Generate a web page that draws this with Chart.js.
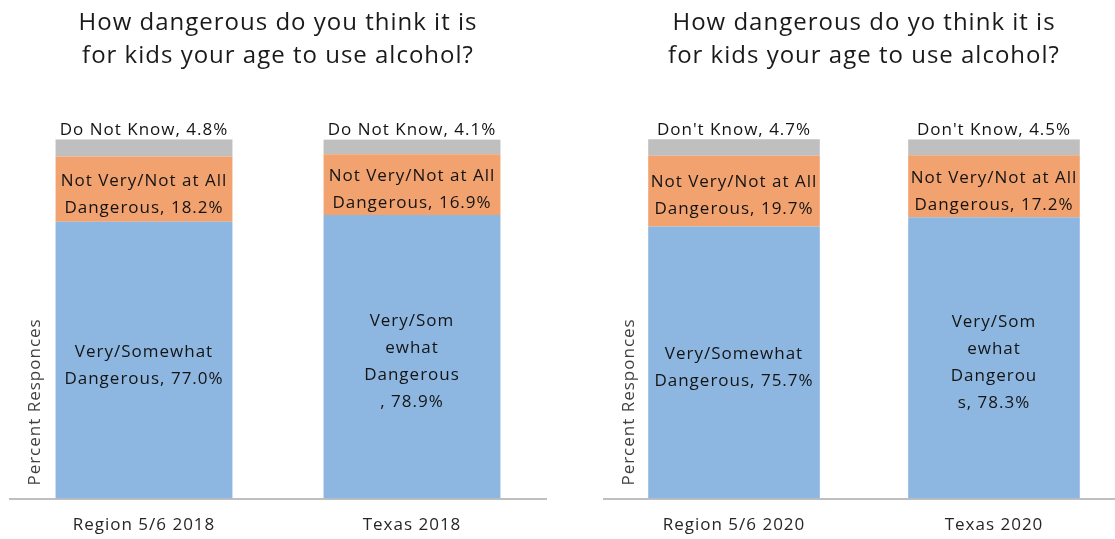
<!DOCTYPE html>
<html lang="en">
<head>
    <meta charset="UTF-8">
    <title>Alcohol danger perception</title>
    <script src="https://cdn.jsdelivr.net/npm/chart.js"></script>
    <style>
        * { box-sizing: border-box; }
        html, body { margin: 0; padding: 0; background: #fff; overflow: hidden; }
        .wrap { position: relative; width: 1115px; height: 539px; overflow: hidden; }
        .panel { position: absolute; top: 0; height: 555px; }
        #left { left: 0; width: 557px; }
        #right { left: 557px; width: 577px; }
    </style>
</head>
<body>
<div class="wrap">
    <div class="panel" id="left"><canvas id="chart2018"></canvas></div>
    <div class="panel" id="right"><canvas id="chart2020"></canvas></div>
</div>

<script>
    // ---- data ----
    const categories2018 = ['Region 5/6 2018', 'Texas 2018'];
    const categories2020 = ['Region 5/6 2020', 'Texas 2020'];

    const seriesNames2018 = ['Very/Somewhat Dangerous', 'Not Very/Not at All Dangerous', 'Do Not Know'];
    const seriesNames2020 = ['Very/Somewhat Dangerous', 'Not Very/Not at All Dangerous', "Don't Know"];

    const verySomewhat2018 = [77.0, 78.9];
    const notVery2018 = [18.2, 16.9];
    const doNotKnow2018 = [4.8, 4.1];

    const verySomewhat2020 = [75.7, 78.3];
    const notVery2020 = [19.7, 17.2];
    const dontKnow2020 = [4.7, 4.5];

    // how each data label was wrapped in the original ('|' = line break), value is appended
    const labelWrap2018 = [
        ['Very/Somewhat|Dangerous, ', 'Very/Som|ewhat|Dangerous|, '],
        ['Not Very/Not at All|Dangerous, ', 'Not Very/Not at All|Dangerous, '],
        ['Do Not Know, ', 'Do Not Know, ']
    ];
    const labelWrap2020 = [
        ['Very/Somewhat|Dangerous, ', 'Very/Som|ewhat|Dangerou|s, '],
        ['Not Very/Not at All|Dangerous, ', 'Not Very/Not at All|Dangerous, '],
        ["Don't Know, ", "Don't Know, "]
    ];

    const title2018 = ['How dangerous do you think it is', 'for kids your age to use alcohol?'];
    const title2020 = ['How dangerous do yo think it is', 'for kids your age to use alcohol?'];
    const yTitle = 'Percent Responces';

    const colors = ['#8db7e1', '#f1a26e', '#bfbfbf'];
    const FONT = "'Open Sans', sans-serif";

    // the original font runs wider, so space the letters a little
    const spacingPlugin = {
        id: 'spacing',
        beforeDraw(chart) { chart.ctx.letterSpacing = '1px'; }
    };

    // draws Excel-style data labels and the y axis title
    const labelPlugin = {
        id: 'barLabels',
        afterDatasetsDraw(chart, args, opts) {
            const ctx = chart.ctx;
            const area = chart.chartArea;
            ctx.save();
            ctx.font = '17px ' + FONT;
            ctx.fillStyle = '#141414';
            ctx.textAlign = 'center';
            ctx.textBaseline = 'middle';
            const lineH = 27;
            chart.data.datasets.forEach((ds, i) => {
                const meta = chart.getDatasetMeta(i);
                meta.data.forEach((bar, j) => {
                    const p = bar.getProps(['x', 'y', 'base'], true);
                    const text = opts.wrap[i][j] + ds.data[j].toFixed(1) + '%';
                    const lines = text.split('|');
                    let cy;
                    if (i === chart.data.datasets.length - 1) {
                        cy = p.y - 9 - (lines.length - 1) * lineH / 2;
                    } else {
                        cy = (p.y + p.base) / 2 + 5;
                    }
                    lines.forEach((ln, k) => {
                        ctx.fillText(ln, p.x, cy + (k - (lines.length - 1) / 2) * lineH);
                    });
                });
            });
            // y axis title sits inside the plot area, near the bottom
            ctx.font = '17px ' + FONT;
            ctx.fillStyle = '#404040';
            ctx.translate(area.left + 25, area.bottom - 13);
            ctx.rotate(-Math.PI / 2);
            ctx.textAlign = 'left';
            ctx.fillText(yTitle, 0, 0);
            ctx.restore();
        }
    };

    function makeChart(id, cats, names, series, wrap, title, padLeft, padRight) {
        return new Chart(document.getElementById(id), {
            type: 'bar',
            data: {
                labels: cats,
                datasets: series.map((d, i) => ({
                    label: names[i],
                    data: d,
                    backgroundColor: colors[i],
                    borderWidth: 0,
                    categoryPercentage: 1,
                    barPercentage: 0.66
                }))
            },
            options: {
                responsive: true,
                maintainAspectRatio: false,
                animation: false,
                layout: { padding: { left: padLeft, right: padRight, top: 0, bottom: 4 } },
                plugins: {
                    legend: { display: false },
                    tooltip: { enabled: false },
                    title: {
                        display: true,
                        text: title,
                        color: '#1a1a1a',
                        font: { family: FONT, size: 24, weight: 'normal', lineHeight: 1.4 },
                        padding: { top: 6, bottom: 66 }
                    },
                    barLabels: { wrap: wrap }
                },
                scales: {
                    x: {
                        stacked: true,
                        grid: { display: false, drawTicks: false },
                        border: { display: true, color: '#bfbfbf', width: 2 },
                        ticks: {
                            color: '#262626',
                            padding: 16,
                            font: { family: FONT, size: 17 }
                        }
                    },
                    y: {
                        stacked: true,
                        display: false,
                        min: 0,
                        max: 100
                    }
                }
            },
            plugins: [spacingPlugin, labelPlugin]
        });
    }

    makeChart('chart2018', categories2018, seriesNames2018,
        [verySomewhat2018, notVery2018, doNotKnow2018], labelWrap2018, title2018, 10, 11);
    makeChart('chart2020', categories2020, seriesNames2020,
        [verySomewhat2020, notVery2020, dontKnow2020], labelWrap2020, title2020, 47, 10);
</script>
</body>
</html>
